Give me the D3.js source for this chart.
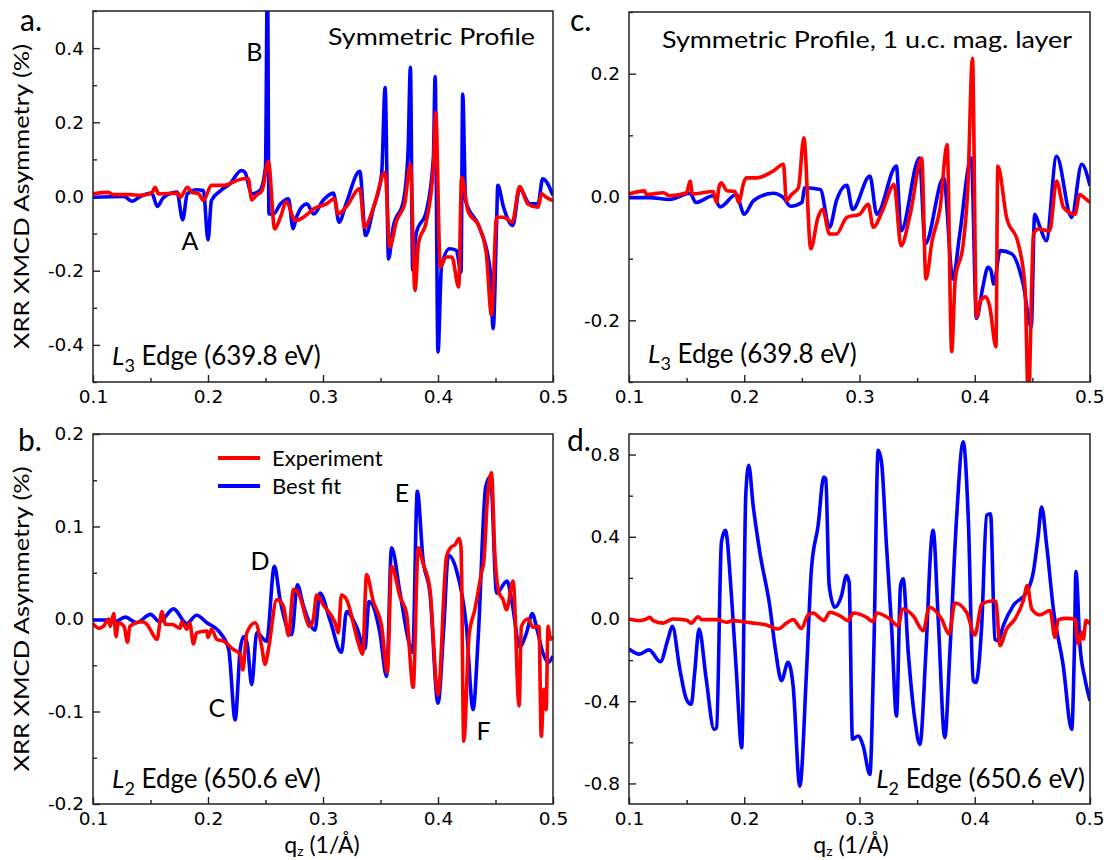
<!DOCTYPE html>
<html>
<head>
<meta charset="utf-8">
<script src="https://cdn.jsdelivr.net/npm/d3@7"></script>
<style>
	body { margin: 0; background: #fff; }
	text { fill: #000; }
	.tick text { font-family: "DejaVu Sans", Verdana, sans-serif; font-size: 18.5px; }
</style>
</head>
<body>
<svg id="fig" width="1104" height="860"></svg>
<script>
// q_z ticks shared by all panels
const qMajor = [0.1, 0.2, 0.3, 0.4, 0.5];
const qMinor = [0.15, 0.25, 0.35, 0.45];

// y ticks per panel
const aMajor = [-0.4, -0.2, 0, 0.2, 0.4];
const aMinor = [-0.5, -0.3, -0.1, 0.1, 0.3, 0.5];
const bMajor = [-0.2, -0.1, 0, 0.1, 0.2];
const bMinor = [-0.15, -0.05, 0.05, 0.15];
const cMajor = [-0.2, 0, 0.2];
const cMinor = [-0.3, -0.1, 0.1, 0.3];
const dMajor = [-0.8, -0.4, 0, 0.4, 0.8];
const dMinor = [-0.6, -0.2, 0.2, 0.6];

// a. L3 edge, symmetric profile  [q, asymmetry %]
const l3Fit = [[0.100,-0.002],[0.127,0.000],[0.134,-0.013],[0.141,0.000],[0.151,0.009],[0.156,-0.027],[0.161,-0.004],[0.173,0.012],[0.178,-0.063],[0.182,0.007],[0.190,0.018],[0.196,0.016],[0.200,-0.117],[0.203,-0.011],[0.211,0.016],[0.219,0.034],[0.229,0.070],[0.232,0.066],[0.238,0.007],[0.245,0.016],[0.250,0.079],[0.2517,0.620],[0.253,-0.047],[0.257,-0.047],[0.263,-0.020],[0.270,-0.006],[0.274,-0.087],[0.277,-0.055],[0.286,-0.020],[0.292,-0.047],[0.300,-0.011],[0.309,0.009],[0.314,-0.069],[0.320,-0.020],[0.332,0.068],[0.337,-0.105],[0.344,-0.029],[0.351,0.061],[0.354,0.294],[0.357,-0.168],[0.361,-0.083],[0.370,-0.011],[0.374,0.124],[0.376,0.348],[0.378,-0.199],[0.381,-0.100],[0.390,-0.038],[0.396,0.105],[0.3975,0.323],[0.400,-0.419],[0.403,-0.190],[0.410,-0.141],[0.416,-0.145],[0.420,-0.204],[0.4215,0.276],[0.424,-0.011],[0.436,-0.083],[0.445,-0.190],[0.448,-0.356],[0.451,-0.065],[0.452,0.030],[0.457,-0.029],[0.465,-0.078],[0.471,0.021],[0.480,-0.020],[0.487,-0.020],[0.491,0.048],[0.500,0.003]];
const l3Exp = [[0.100,0.007],[0.113,0.011],[0.118,0.005],[0.132,0.005],[0.141,0.003],[0.151,0.009],[0.154,0.025],[0.157,0.007],[0.174,0.009],[0.176,-0.002],[0.182,0.025],[0.186,0.012],[0.192,0.007],[0.196,-0.011],[0.203,0.030],[0.213,0.030],[0.231,0.048],[0.235,0.048],[0.238,-0.009],[0.242,0.003],[0.247,0.016],[0.2525,0.095],[0.258,-0.087],[0.263,-0.056],[0.268,-0.015],[0.276,-0.065],[0.283,-0.056],[0.292,-0.033],[0.303,-0.020],[0.310,-0.006],[0.313,-0.047],[0.320,-0.029],[0.332,0.021],[0.336,-0.083],[0.344,-0.029],[0.354,0.065],[0.358,-0.136],[0.364,-0.065],[0.371,-0.020],[0.376,0.088],[0.380,-0.253],[0.383,-0.127],[0.390,-0.065],[0.396,0.079],[0.398,0.227],[0.402,-0.190],[0.407,-0.163],[0.412,-0.163],[0.418,-0.244],[0.4205,0.052],[0.426,-0.038],[0.436,-0.083],[0.442,-0.154],[0.4465,-0.320],[0.451,-0.056],[0.457,-0.056],[0.4645,-0.069],[0.471,0.027],[0.478,-0.020],[0.487,-0.029],[0.490,0.007],[0.494,-0.002],[0.500,-0.011]];

// b. L2 edge, symmetric profile
const l2Fit = [[0.100,-0.001],[0.112,-0.001],[0.119,-0.003],[0.128,0.002],[0.138,-0.004],[0.150,0.005],[0.158,-0.003],[0.170,0.011],[0.1816,-0.005],[0.190,0.004],[0.199,-0.004],[0.2106,-0.015],[0.218,-0.033],[0.2236,-0.109],[0.228,-0.033],[0.231,-0.019],[0.234,-0.026],[0.238,-0.071],[0.2424,-0.015],[0.251,-0.024],[0.2577,0.057],[0.2627,0.021],[0.2728,-0.017],[0.2777,0.037],[0.283,0.014],[0.293,-0.012],[0.2974,0.028],[0.306,-0.001],[0.316,-0.036],[0.3205,0.008],[0.329,-0.008],[0.3365,-0.032],[0.340,0.019],[0.3495,-0.015],[0.3553,-0.062],[0.3596,0.077],[0.367,0.028],[0.3755,-0.029],[0.378,-0.036],[0.382,0.138],[0.387,0.064],[0.393,0.028],[0.400,-0.091],[0.405,-0.010],[0.409,0.069],[0.416,0.053],[0.4247,-0.008],[0.4305,-0.098],[0.435,-0.019],[0.4415,0.143],[0.4456,0.154],[0.451,0.028],[0.460,0.041],[0.4645,0.017],[0.471,-0.030],[0.477,-0.015],[0.482,0.006],[0.4855,-0.008],[0.4913,-0.037],[0.4957,-0.047],[0.500,-0.040]];
const l2Exp = [[0.100,-0.005],[0.105,-0.010],[0.109,-0.008],[0.1136,0.000],[0.115,-0.008],[0.118,0.006],[0.120,-0.019],[0.122,-0.004],[0.127,-0.008],[0.130,-0.025],[0.132,-0.008],[0.1425,-0.003],[0.147,-0.006],[0.150,-0.012],[0.1556,-0.022],[0.160,0.008],[0.163,-0.006],[0.169,-0.006],[0.1758,-0.010],[0.177,-0.003],[0.1816,-0.011],[0.184,-0.004],[0.1874,-0.027],[0.190,-0.015],[0.199,-0.013],[0.200,-0.020],[0.203,-0.011],[0.2077,-0.022],[0.2135,-0.024],[0.2221,-0.033],[0.228,-0.038],[0.2303,-0.055],[0.2337,-0.015],[0.241,-0.004],[0.2467,-0.030],[0.2496,-0.049],[0.2525,-0.033],[0.2598,0.021],[0.2656,0.014],[0.270,-0.018],[0.2742,0.032],[0.2786,0.028],[0.2887,-0.008],[0.2916,0.000],[0.2945,0.026],[0.3003,0.015],[0.3104,-0.004],[0.3133,-0.015],[0.316,0.026],[0.3205,0.021],[0.3307,-0.026],[0.3344,-0.038],[0.3379,0.048],[0.3437,0.019],[0.351,-0.008],[0.3559,-0.058],[0.3596,0.057],[0.367,0.024],[0.3726,0.006],[0.3784,-0.074],[0.3828,0.077],[0.387,0.060],[0.393,0.032],[0.400,-0.082],[0.4074,0.068],[0.4117,0.078],[0.4146,0.080],[0.4184,0.087],[0.420,0.078],[0.4224,-0.132],[0.427,-0.018],[0.432,0.010],[0.4378,0.050],[0.440,0.064],[0.4427,0.125],[0.4465,0.158],[0.4494,0.071],[0.4531,0.028],[0.4566,0.021],[0.4595,0.010],[0.4653,0.041],[0.4705,-0.094],[0.4725,-0.008],[0.4783,0.000],[0.4826,-0.009],[0.4878,-0.008],[0.4898,-0.127],[0.492,-0.076],[0.494,-0.098],[0.4957,-0.008],[0.4977,-0.022],[0.500,-0.019]];

// c. L3 edge, 1 u.c. magnetic layer
const l3OneFit = [[0.100,-0.001],[0.118,-0.001],[0.135,-0.004],[0.153,0.006],[0.158,-0.009],[0.173,0.002],[0.179,-0.016],[0.193,0.004],[0.200,-0.028],[0.208,-0.006],[0.225,0.006],[0.234,-0.001],[0.240,-0.015],[0.250,-0.009],[0.2525,0.015],[0.266,0.012],[0.274,-0.049],[0.280,-0.006],[0.289,0.019],[0.294,-0.020],[0.309,0.034],[0.315,-0.028],[0.332,0.050],[0.336,-0.055],[0.352,0.063],[0.357,-0.076],[0.373,0.031],[0.381,-0.133],[0.387,-0.060],[0.397,0.063],[0.4015,-0.197],[0.407,-0.146],[0.4115,-0.114],[0.414,-0.119],[0.4165,-0.141],[0.422,-0.087],[0.432,-0.092],[0.442,-0.141],[0.449,-0.211],[0.452,-0.028],[0.4566,-0.049],[0.462,-0.071],[0.471,0.066],[0.484,-0.033],[0.4928,0.053],[0.500,0.018]];
const l3OneExp = [[0.100,0.005],[0.1136,0.010],[0.115,0.004],[0.130,0.007],[0.135,0.002],[0.150,0.007],[0.153,0.026],[0.155,0.005],[0.173,0.009],[0.176,-0.009],[0.178,0.015],[0.180,0.023],[0.185,0.010],[0.192,0.009],[0.195,-0.009],[0.200,0.026],[0.202,0.031],[0.211,0.031],[0.225,0.042],[0.234,0.053],[0.2366,-0.006],[0.241,0.004],[0.247,0.015],[0.2517,0.096],[0.2577,-0.084],[0.264,-0.033],[0.268,-0.020],[0.274,-0.060],[0.280,-0.060],[0.289,-0.033],[0.300,-0.028],[0.3075,-0.012],[0.312,-0.049],[0.320,-0.022],[0.330,0.020],[0.336,-0.079],[0.344,-0.028],[0.354,0.063],[0.3576,-0.133],[0.363,-0.071],[0.370,-0.017],[0.376,0.085],[0.380,-0.251],[0.383,-0.135],[0.390,-0.076],[0.394,0.015],[0.398,0.225],[0.4015,-0.195],[0.405,-0.168],[0.4097,-0.162],[0.413,-0.178],[0.4184,-0.243],[0.420,0.050],[0.4276,-0.033],[0.4378,-0.076],[0.4436,-0.146],[0.4465,-0.330],[0.451,-0.060],[0.455,-0.052],[0.465,-0.055],[0.471,0.026],[0.477,-0.017],[0.487,-0.028],[0.491,0.004],[0.495,-0.001],[0.500,-0.009]];

// d. L2 edge, 1 u.c. magnetic layer
const l2OneFit = [[0.100,-0.146],[0.109,-0.171],[0.1174,-0.150],[0.1272,-0.208],[0.1338,-0.098],[0.1376,-0.036],[0.1441,-0.244],[0.1498,-0.390],[0.154,-0.415],[0.157,-0.260],[0.1608,-0.049],[0.167,-0.293],[0.1738,-0.537],[0.176,-0.529],[0.1802,0.374],[0.1836,0.431],[0.1889,0.114],[0.1932,-0.260],[0.1978,-0.626],[0.2013,0.600],[0.2039,0.748],[0.2077,0.553],[0.2135,0.325],[0.2221,0.065],[0.2274,-0.163],[0.2323,-0.300],[0.238,-0.211],[0.2424,-0.325],[0.2482,-0.813],[0.254,-0.260],[0.2583,0.244],[0.2641,0.455],[0.269,0.691],[0.2707,0.683],[0.2737,0.163],[0.2786,0.057],[0.2844,0.114],[0.2887,0.211],[0.291,0.179],[0.2939,-0.585],[0.2988,-0.569],[0.3032,-0.618],[0.309,-0.756],[0.3124,-0.163],[0.3162,0.821],[0.3191,0.764],[0.3234,0.358],[0.3278,-0.033],[0.3321,-0.472],[0.3356,0.163],[0.3379,0.195],[0.3423,-0.163],[0.348,-0.488],[0.3524,-0.610],[0.3576,-0.163],[0.3625,0.390],[0.3639,0.431],[0.3683,0.000],[0.374,-0.577],[0.3784,-0.163],[0.3842,0.488],[0.390,0.862],[0.3944,0.488],[0.3987,-0.300],[0.401,-0.309],[0.406,-0.033],[0.4103,0.504],[0.4137,0.512],[0.4175,-0.098],[0.4204,-0.106],[0.4247,-0.033],[0.4334,0.065],[0.445,0.130],[0.4508,0.228],[0.4551,0.407],[0.458,0.545],[0.4624,0.358],[0.4682,0.049],[0.4768,-0.228],[0.4841,-0.537],[0.4864,-0.163],[0.4878,0.231],[0.4913,-0.130],[0.4957,-0.293],[0.500,-0.398]];
const l2OneExp = [[0.100,0.000],[0.109,-0.008],[0.115,0.000],[0.118,0.008],[0.121,-0.008],[0.1295,-0.020],[0.138,0.000],[0.150,-0.006],[0.154,-0.020],[0.160,0.011],[0.163,-0.003],[0.1758,-0.003],[0.1845,-0.016],[0.190,-0.008],[0.2077,-0.020],[0.2192,-0.029],[0.2294,-0.049],[0.2366,-0.020],[0.2424,-0.003],[0.2496,-0.046],[0.2554,0.020],[0.2598,0.029],[0.2656,0.005],[0.269,-0.008],[0.2742,0.033],[0.2829,0.016],[0.2902,-0.008],[0.2945,0.029],[0.3061,0.008],[0.3119,-0.013],[0.3148,0.029],[0.3263,0.000],[0.3336,-0.033],[0.3373,0.049],[0.3466,0.016],[0.3553,-0.057],[0.3605,0.057],[0.3712,0.000],[0.3778,-0.073],[0.3828,0.078],[0.3929,0.033],[0.4001,-0.078],[0.406,0.073],[0.416,0.089],[0.4184,0.085],[0.4218,-0.130],[0.4276,-0.049],[0.4349,0.000],[0.4421,0.089],[0.4456,0.163],[0.4494,0.049],[0.4566,0.020],[0.4653,0.041],[0.4696,-0.089],[0.4725,-0.003],[0.4798,0.003],[0.4869,0.000],[0.4898,-0.122],[0.4928,-0.065],[0.4942,-0.098],[0.4965,-0.008],[0.500,-0.024]];

const legendLabels = ['Experiment', 'Best fit'];
const RED = '#ff0000', BLUE = '#0000ff';
const TEXT_FONT = 'Lato, "Open Sans", sans-serif';

const svg = d3.select('#fig');
const fmt = (d) => d3.format('.1f')(d).replace('\u2212', '-');

const panels = [
	{ id: 'a', box: [93, 11, 553, 382], yDomain: [-0.5, 0.5], major: aMajor, minor: aMinor,
		fit: l3Fit, exp: l3Exp, edge: ['3', ' Edge (639.8 eV)'], edgePos: [112, 365, 'start'], ylabel: true,
		title: 'Symmetric Profile', titlePos: [535, 45], titleLen: 207,
		marks: [['B', 0.2404, 0.366], ['A', 0.1843, -0.145]] },
	{ id: 'b', box: [93, 434, 553, 804], yDomain: [-0.2, 0.2], major: bMajor, minor: bMinor,
		fit: l2Fit, exp: l2Exp, edge: ['2', ' Edge (650.6 eV)'], edgePos: [112, 788, 'start'], ylabel: true,
		xlabelAt: 322, legend: true,
		marks: [['E', 0.3687, 0.126], ['D', 0.2452, 0.053], ['C', 0.2078, -0.106], ['F', 0.4396, -0.131]] },
	{ id: 'c', box: [629, 12, 1090, 382], yDomain: [-0.3, 0.3], major: cMajor, minor: cMinor,
		fit: l3OneFit, exp: l3OneExp, edge: ['3', ' Edge (639.8 eV)'], edgePos: [648, 363, 'start'],
		title: 'Symmetric Profile, 1 u.c. mag. layer', titlePos: [1072, 48], titleLen: 410, marks: [],
		edgeRight: true },
	{ id: 'd', box: [629, 434, 1090, 804], yDomain: [-0.9, 0.9], major: dMajor, minor: dMinor,
		fit: l2OneFit, exp: l2OneExp, edge: ['2', ' Edge (650.6 eV)'], edgePos: [1085, 788, 'end'],
		xlabelAt: 851, marks: [], edgeRight: true }
];

const letterPos = { a: [20, 31], b: [18, 451], c: [570, 31], d: [567, 451] };

panels.forEach((p) => {
	const [x0, y0, x1, y1] = p.box;
	const x = d3.scaleLinear().domain([0.1, 0.5]).range([x0, x1]);
	const y = d3.scaleLinear().domain(p.yDomain).range([y1, y0]);
	const g = svg.append('g').attr('class', `panel-${p.id}`);

	g.append('clipPath').attr('id', `clip-${p.id}`)
		.append('rect').attr('x', x0).attr('y', y0).attr('width', x1 - x0).attr('height', y1 - y0);

	// axes with inward ticks
	const bottom = g.append('g').attr('transform', `translate(0,${y1})`)
		.call(d3.axisBottom(x).tickValues(qMajor).tickSize(-7).tickPadding(8).tickFormat(d3.format('.1f')));
	g.append('g').attr('transform', `translate(0,${y1})`)
		.call(d3.axisBottom(x).tickValues(qMinor).tickSize(-4).tickFormat(''));
	g.append('g').attr('transform', `translate(${x0},0)`)
		.call(d3.axisLeft(y).tickValues(p.major).tickSize(-7).tickPadding(9).tickFormat(fmt));
	g.append('g').attr('transform', `translate(${x0},0)`)
		.call(d3.axisLeft(y).tickValues(p.minor).tickSize(-4).tickFormat(''));
	g.selectAll('.domain').remove();
	g.selectAll('.tick line').attr('stroke', '#222').attr('stroke-width', 1.4);
	g.selectAll('.tick text').attr('fill', '#000');
	bottom.selectAll('.tick text').attr('dy', '0.72em');
	// keep the last label of the right column inside the page
	if (p.edgeRight) {
		bottom.selectAll('.tick text').filter((d) => d === 0.5).attr('text-anchor', 'end').attr('x', 14);
	}

	const line = d3.line().x((d) => x(d[0])).y((d) => y(d[1])).curve(d3.curveMonotoneX);

	const plot = g.append('g').attr('clip-path', `url(#clip-${p.id})`);
	plot.append('path').datum(p.fit)
		.attr('d', line)
		.attr('fill', 'none').attr('stroke', BLUE).attr('stroke-width', 3.6)
		.attr('stroke-linejoin', 'round');
	plot.append('path').datum(p.exp)
		.attr('d', line)
		.attr('fill', 'none').attr('stroke', RED).attr('stroke-width', 3.6)
		.attr('stroke-linejoin', 'round');

	g.append('rect').attr('x', x0).attr('y', y0).attr('width', x1 - x0).attr('height', y1 - y0)
		.attr('fill', 'none').attr('stroke', '#222').attr('stroke-width', 1.5);

	// edge label, L italic with subscript
	const edge = g.append('text').attr('x', p.edgePos[0]).attr('y', p.edgePos[1])
		.attr('text-anchor', p.edgePos[2])
		.attr('font-family', TEXT_FONT).attr('font-size', 26);
	edge.append('tspan').attr('font-style', 'italic').text('L');
	edge.append('tspan').attr('dy', 7).attr('font-size', 18).text(p.edge[0]);
	edge.append('tspan').attr('dy', -7).text(p.edge[1]);

	if (p.title) {
		g.append('text').attr('x', p.titlePos[0]).attr('y', p.titlePos[1])
			.attr('text-anchor', 'end').attr('font-family', TEXT_FONT).attr('font-size', 24)
			.attr('textLength', p.titleLen).attr('lengthAdjust', 'spacingAndGlyphs')
			.text(p.title);
	}

	g.selectAll('text.mark').data(p.marks).enter().append('text')
		.attr('class', 'mark')
		.attr('x', (d) => x(d[1])).attr('y', (d) => y(d[2]))
		.attr('text-anchor', 'middle').attr('font-family', TEXT_FONT).attr('font-size', 25)
		.text((d) => d[0]);

	if (p.legend) {
		const lg = g.append('g').attr('transform', 'translate(218,458)');
		[RED, BLUE].forEach((c, i) => {
			lg.append('line').attr('x1', 0).attr('x2', 42).attr('y1', i * 28).attr('y2', i * 28)
				.attr('stroke', c).attr('stroke-width', 4);
			lg.append('text').attr('x', 54).attr('y', i * 28 + 8)
				.attr('font-family', TEXT_FONT).attr('font-size', 22).text(legendLabels[i]);
		});
	}

	if (p.ylabel) {
		const cy = (y0 + y1) / 2;
		g.append('text').attr('transform', `translate(29,${cy}) rotate(-90)`)
			.attr('text-anchor', 'middle').attr('font-family', TEXT_FONT).attr('font-size', 21)
			.attr('textLength', 305).attr('lengthAdjust', 'spacingAndGlyphs')
			.text('XRR XMCD Asymmetry (%)');
	}

	if (p.xlabelAt) {
		const t = g.append('text').attr('x', p.xlabelAt).attr('y', 853)
			.attr('text-anchor', 'middle').attr('font-family', TEXT_FONT).attr('font-size', 23);
		t.append('tspan').text('q');
		t.append('tspan').attr('dy', 3).attr('font-size', 14).text('z');
		t.append('tspan').attr('dy', -3).text(' (1/Å)');
	}

	svg.append('text').attr('x', letterPos[p.id][0]).attr('y', letterPos[p.id][1])
		.attr('font-family', TEXT_FONT).attr('font-size', 30).text(`${p.id}.`);
});
</script>
</body>
</html>
